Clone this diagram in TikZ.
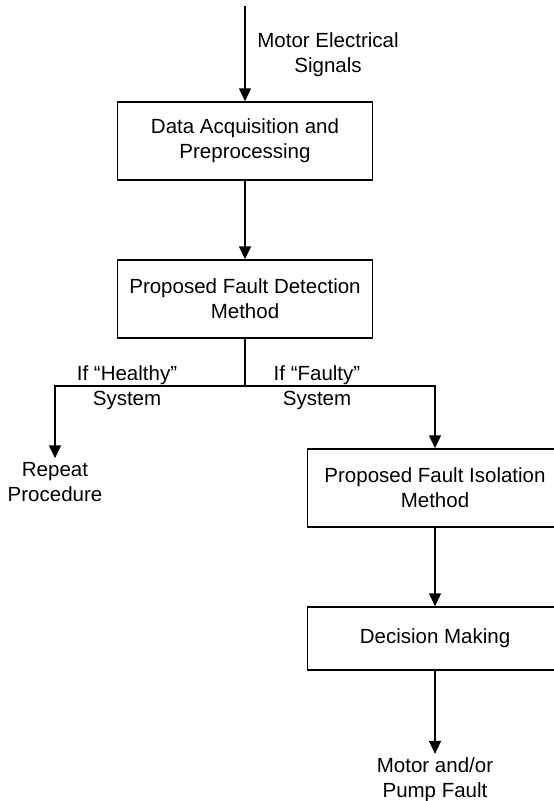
\documentclass[tikz,border=0pt]{standalone}
\usepackage{fontspec}
\setmainfont{Liberation Sans}
\usepackage{tikz}
\usetikzlibrary{arrows.meta,positioning}

\begin{document}
\begin{tikzpicture}[x=1pt, y=-1pt,
        line width=1.5pt,
        every node/.style={font=\fontsize{20.5}{25}\selectfont, align=center},
        stage/.style={draw, line width=1.5pt, minimum width=255pt, minimum height=78pt},
        flow/.style={-{Triangle[length=13pt,width=12pt]}}]
        \useasboundingbox (0,0) rectangle (554,801);

        % Boxes
        \node[stage] (acq) at (245,141) {Data Acquisition and\\Preprocessing};
        \node[stage] (det) at (245,299) {Proposed Fault Detection\\Method};
        \node[stage] (iso) at (435,488) {Proposed Fault Isolation\\Method};
        \node[stage, minimum height=63pt] (dec) at (435,638.5) {Decision Making};

        % Free ends
        \coordinate (in) at (245,6);
        \coordinate (split) at (245,386);
        \node (rep) at (55,482) {Repeat\\Procedure};
        \node (out) at (435,780) {Motor and/or\\Pump Fault};

        % Arrows
        \draw[flow] (in) -- (acq);
        \draw[flow] (acq) -- (det);
        \draw (det) -- (split);
        \draw[flow] (split) -| (rep.north);
        \draw[flow] (split) -| (iso.north);
        \draw[flow] (iso) -- (dec);
        \draw[flow] (dec) -- (out.north);

        % Labels
        \node (sig) at (328,55) {Motor Electrical\\Signals};
        \node (healthy) at (127,388) {If “Healthy”\\System};
        \node (faulty) at (317,388) {If “Faulty”\\System};
    \end{tikzpicture}
\end{document}
